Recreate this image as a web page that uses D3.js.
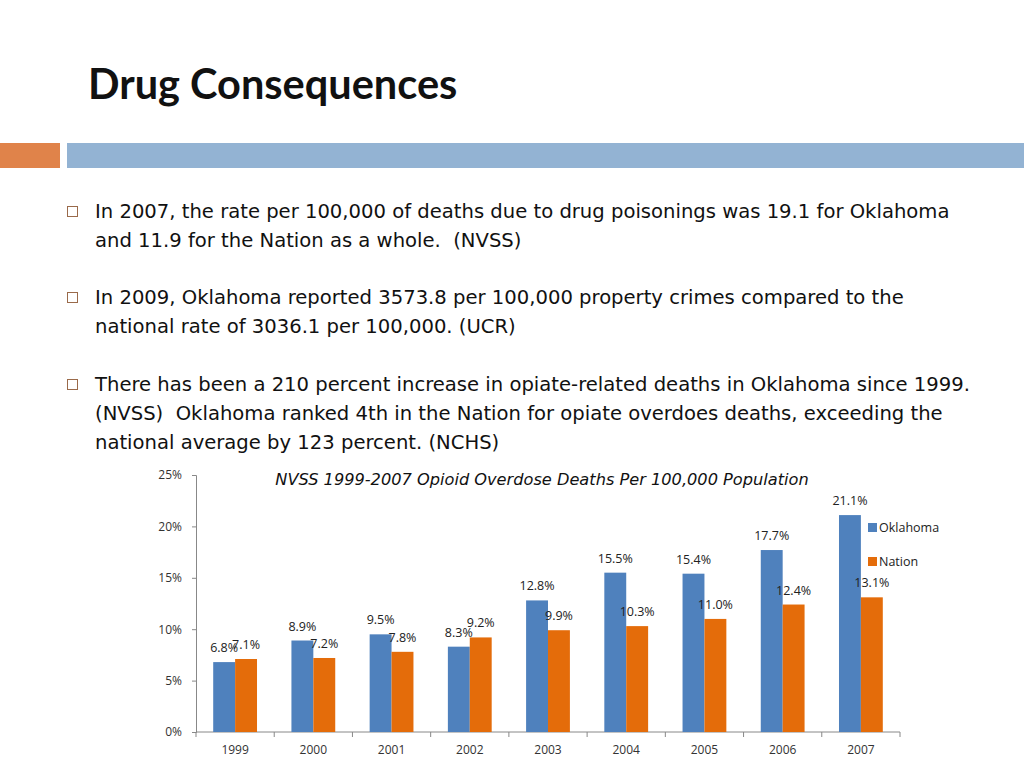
<!DOCTYPE html>
<html><head><meta charset="utf-8">
<script src="https://cdn.jsdelivr.net/npm/d3@7/dist/d3.min.js"></script>
<style>body{margin:0;background:#fff;}svg{display:block;}</style>
</head><body>
<svg id="c" width="1024" height="768"></svg>
<script>
const years = ["1999","2000","2001","2002","2003","2004","2005","2006","2007"];
const oklahoma = [6.8, 8.9, 9.5, 8.3, 12.8, 15.5, 15.4, 17.7, 21.1];
const nation = [7.1, 7.2, 7.8, 9.2, 9.9, 10.3, 11.0, 12.4, 13.1];
const seriesNames = ["Oklahoma", "Nation"];
const yTicks = [0, 5, 10, 15, 20, 25];
const bullets = [
  ["In 2007, the rate per 100,000 of deaths due to drug poisonings was 19.1 for Oklahoma",
   "and 11.9 for the Nation as a whole.  (NVSS)"],
  ["In 2009, Oklahoma reported 3573.8 per 100,000 property crimes compared to the",
   "national rate of 3036.1 per 100,000. (UCR)"],
  ["There has been a 210 percent increase in opiate-related deaths in Oklahoma since 1999.",
   "(NVSS)  Oklahoma ranked 4th in the Nation for opiate overdoes deaths, exceeding the",
   "national average by 123 percent. (NCHS)"]
];
const colors = ["#4F81BD", "#E46C0A"];
const lblFont = "'Open Sans', sans-serif";

const svg = d3.select("#c");

// Title
svg.append("text").attr("x", 88).attr("y", 99)
  .attr("font-family", "Lato, 'Open Sans', sans-serif").attr("font-weight", "bold")
  .attr("font-size", 41.5).attr("fill", "#111").text("Drug Consequences");

// header bars
svg.append("rect").attr("x", 0).attr("y", 143).attr("width", 60).attr("height", 25).attr("fill", "#E0834A");
svg.append("rect").attr("x", 67).attr("y", 143).attr("width", 957).attr("height", 25).attr("fill", "#93B3D3");

// bullets
const bStarts = [212, 298, 385];
bullets.forEach((lines, i) => {
  const y0 = bStarts[i];
  svg.append("rect").attr("x", 67.5).attr("y", y0 - 5.5).attr("width", 10).attr("height", 10)
    .attr("fill", "none").attr("stroke", "#9a6a4a").attr("stroke-width", 1);
  lines.forEach((ln, j) => {
    svg.append("text").attr("x", 95).attr("y", y0 + 6 + j * 29)
      .attr("xml:space", "preserve").style("white-space", "pre")
      .attr("font-family", "'DejaVu Sans', sans-serif").attr("font-size", 19.6)
      .attr("fill", "#111").text(ln);
  });
});

// chart
const pL = 196, pR = 900, pT = 475, pB = 732;
const x = d3.scaleBand().domain(years).range([pL, pR]).paddingInner(0.44).paddingOuter(0.22);
const sub = d3.scaleBand().domain(seriesNames).range([0, x.bandwidth()]);
const y = d3.scaleLinear().domain([0, 25]).range([pB, pT]);

svg.append("text").attr("x", 542).attr("y", 485).attr("text-anchor", "middle")
  .attr("font-family", "'DejaVu Sans', sans-serif").attr("font-style", "italic")
  .attr("font-size", 16.2).attr("fill", "#111")
  .text("NVSS 1999-2007 Opioid Overdose Deaths Per 100,000 Population");

// y axis
const yAxis = svg.append("g").attr("transform", `translate(${pL},0)`)
  .call(d3.axisLeft(y).tickValues(yTicks).tickSize(4).tickFormat(d => d + "%"));
yAxis.select(".domain").attr("stroke", "#888");
yAxis.selectAll(".tick line").attr("stroke", "#888");
yAxis.selectAll("text").attr("font-family", lblFont).attr("font-size", 12).attr("fill", "#333").attr("x", -14);

// x axis
const xg = svg.append("g").attr("transform", `translate(0,${pB})`);
xg.append("line").attr("x1", pL).attr("x2", pR).attr("stroke", "#888");
const step = x.step();
const boundaries = d3.range(years.length + 1).map(i => pL + i * step);
xg.selectAll("line.tk").data(boundaries).join("line").attr("class", "tk")
  .attr("x1", d => d).attr("x2", d => d).attr("y1", 0).attr("y2", 5).attr("stroke", "#888");
xg.selectAll("text").data(years).join("text")
  .attr("x", d => x(d) + x.bandwidth() / 2).attr("y", 22).attr("text-anchor", "middle")
  .attr("font-family", lblFont).attr("font-size", 12).attr("fill", "#333").text(d => d);

const data = [oklahoma, nation];
data.forEach((vals, si) => {
  const g = svg.append("g");
  g.selectAll("rect").data(years).join("rect")
    .attr("x", (d) => x(d) + sub(seriesNames[si]))
    .attr("y", (d, i) => y(vals[i]))
    .attr("width", sub.bandwidth())
    .attr("height", (d, i) => pB - y(vals[i]))
    .attr("fill", colors[si]);
  g.selectAll("text").data(years).join("text")
    .attr("x", d => x(d) + sub(seriesNames[si]) + sub.bandwidth() / 2)
    .attr("y", (d, i) => y(vals[i]) - 10)
    .attr("text-anchor", "middle")
    .attr("font-family", lblFont).attr("font-size", 12.5).attr("fill", "#222")
    .text((d, i) => vals[i].toFixed(1) + "%");
});

// legend
const leg = svg.append("g");
seriesNames.forEach((n, i) => {
  const ly = 528 + i * 34;
  leg.append("rect").attr("x", 868).attr("y", ly - 5).attr("width", 9).attr("height", 9).attr("fill", colors[i]);
  leg.append("text").attr("x", 879).attr("y", ly + 4).attr("font-family", lblFont)
    .attr("font-size", 12.5).attr("fill", "#222").text(n);
});
</script>
</body></html>
